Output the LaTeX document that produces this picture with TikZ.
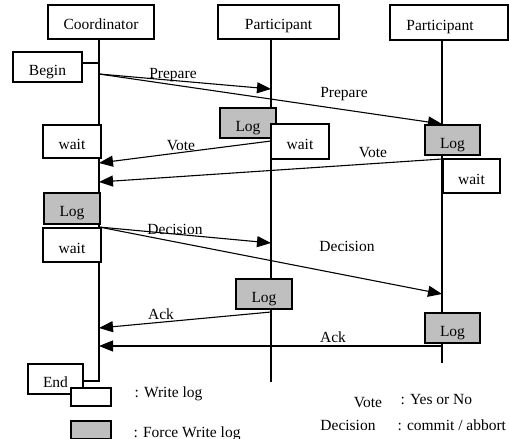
\documentclass[tikz,border=0pt]{standalone}
\usepackage{fontspec}
\setmainfont{Liberation Serif}
\usetikzlibrary{arrows.meta}

\begin{document}
\begin{tikzpicture}[x=1pt,y=-1pt,line width=1.1pt,font=\fontsize{15.5}{18}\selectfont]
    \tikzstyle{box}=[draw,fill=white,line width=1.5pt,rectangle,inner sep=0pt,text height=16pt,text depth=0pt]
    \tikzstyle{logbox}=[box,fill=black!25]
    \tikzstyle{msg}=[-{Triangle[length=14pt,width=11pt]}]
    \tikzstyle{lbl}=[anchor=base,inner sep=0pt]

\useasboundingbox (0,0) rectangle (509,439);

\node[box,minimum width=106pt,minimum height=34pt] (coord) at (101,22) {Coordinator};
\node[box,minimum width=121pt,minimum height=34pt] (part1) at (278.5,22) {Participant};
\node[box,minimum width=118pt,minimum height=35pt] (part2) at (449,22.5) {\hspace*{-18pt}Participant};

\coordinate (cbeg) at (99,63);
\coordinate (cbot) at (99,381);
\coordinate (cfoot) at (82,381);
\coordinate (p1bot) at (271,382);
\coordinate (p2bot) at (442,363);

\coordinate (cp) at (99,74);
\coordinate (p1p) at (271,89);
\coordinate (p2p) at (442,124);
\coordinate (p1v) at (271,141);
\coordinate (cv1) at (99,163);
\coordinate (p2v) at (442,159);
\coordinate (cv2) at (99,182);
\coordinate (cd) at (99,227);
\coordinate (p1d) at (271,243);
\coordinate (p2d) at (442,294);
\coordinate (p1a) at (271,312);
\coordinate (ca1) at (99,328);
\coordinate (p2a) at (442,346);
\coordinate (ca2) at (99,346);

\draw (coord.south -| cbot) -- (cbot) -- (cfoot);
\draw (part1.south -| p1bot) -- (p1bot);
\draw (part2.south -| p2bot) -- (p2bot);

\draw[msg] (cp) -- (p1p);
\draw[msg] (cp) -- (p2p);
\draw[msg] (p1v) -- (cv1);
\draw[msg] (p2v) -- (cv2);
\draw[msg] (cd) -- (p1d);
\draw[msg] (cd) -- (p2d);
\draw[msg] (p1a) -- (ca1);
\draw[msg] (p2a) -- (ca2);

\node[box,minimum width=69pt,minimum height=30pt] (begin) at (47.5,67) {Begin};
\draw (begin.east |- cbeg) -- (cbeg);
\node[box,minimum width=58pt,minimum height=33pt] (cwait1) at (72,141.5) {wait};
\node[logbox,minimum width=56pt,minimum height=30pt] (p1log1) at (248,123) {Log};
\node[box,minimum width=58pt,minimum height=35pt] (p1wait) at (300,141.5) {wait};
\node[logbox,minimum width=55pt,minimum height=30pt] (p2log1) at (452.5,140) {Log};
\node[box,minimum width=57pt,minimum height=34pt] (p2wait) at (471.5,176) {wait};
\node[logbox,minimum width=56pt,minimum height=31pt] (clog) at (72,208.5) {Log};
\node[box,minimum width=58pt,minimum height=34pt] (cwait2) at (72,245) {wait};
\node[logbox,minimum width=56pt,minimum height=30pt] (p1log2) at (264,294) {Log};
\node[logbox,minimum width=55pt,minimum height=30pt] (p2log2) at (452.5,328) {Log};
\node[box,minimum width=55pt,minimum height=30pt] (end) at (55.5,379) {End};

\node[lbl] (lprep1) at (173,78) {Prepare};
\node[lbl] (lprep2) at (344,97) {Prepare};
\node[lbl] (lvote1) at (181,150) {Vote};
\node[lbl] (lvote2) at (373,157) {Vote};
\node[lbl] (ldec1) at (175,234) {Decision};
\node[lbl] (ldec2) at (347,251) {Decision};
\node[lbl] (lack1) at (161,319) {Ack};
\node[lbl] (lack2) at (333,342) {Ack};

\node[box,minimum width=40pt,minimum height=18pt] (keyw) at (91,397) {};
\node[logbox,minimum width=40pt,minimum height=18pt] (keyf) at (91,430) {};
\node[lbl,anchor=base west] (lkeyw) at (134,397) {: Write log};
\node[lbl,anchor=base west] (lkeyf) at (133,437) {: Force Write log};
\node[lbl] (lkvote) at (368,407) {Vote};
\node[lbl,anchor=base west] (lkyes) at (400,404) {: Yes or No};
\node[lbl] (lkdec) at (348,430) {Decision};
\node[lbl,anchor=base west] (lkcom) at (397,430) {: commit / abbort};
\end{tikzpicture}
\end{document}
